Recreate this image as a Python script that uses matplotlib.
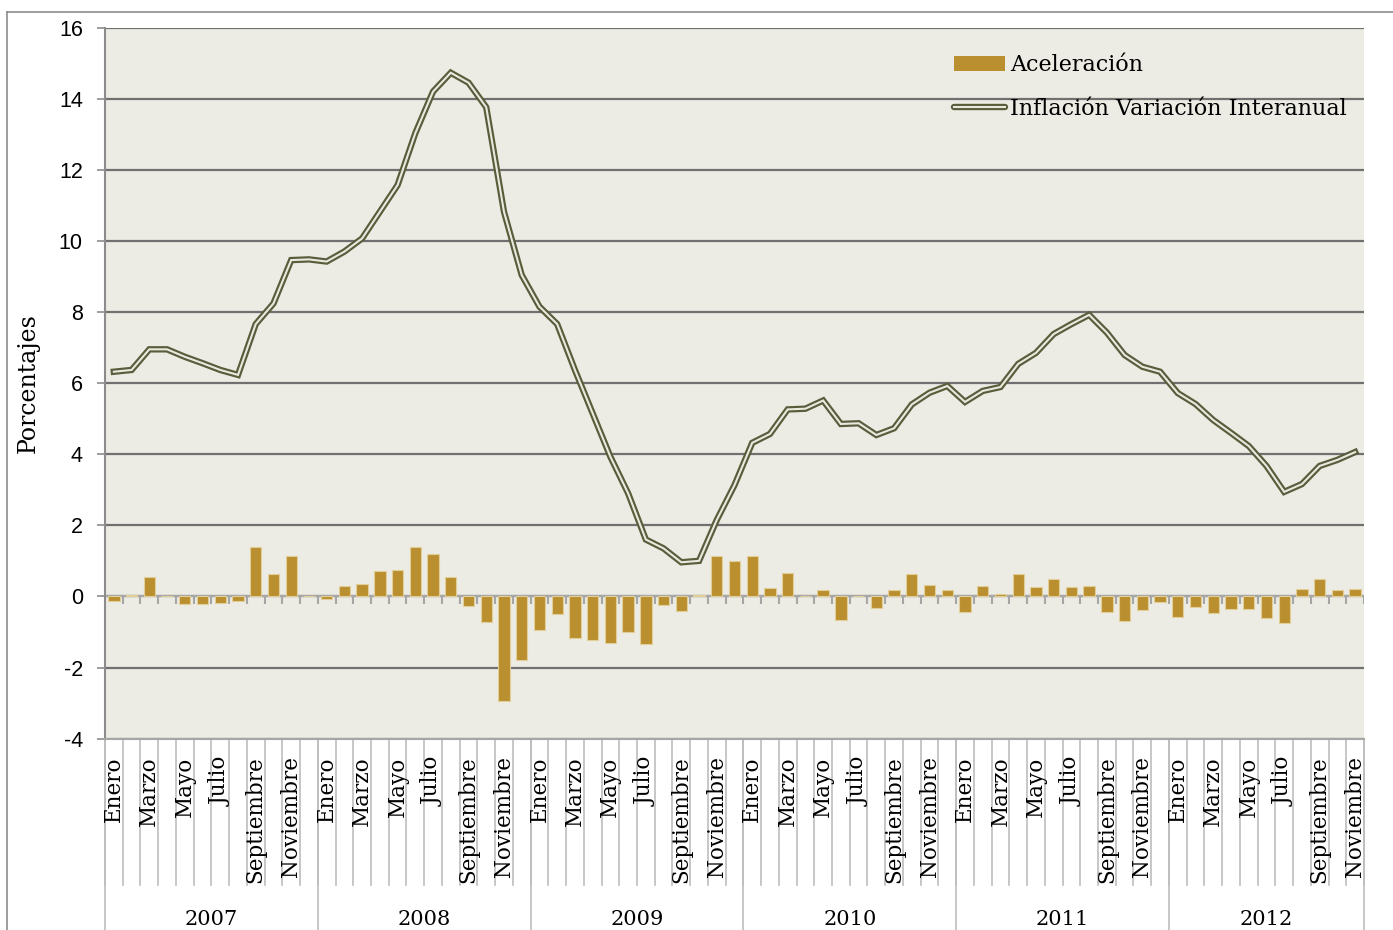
import numpy as np
import matplotlib
matplotlib.use("Agg")
import matplotlib.pyplot as plt
from matplotlib.lines import Line2D
from matplotlib.patches import Patch

plt.rcParams['axes.unicode_minus'] = False

# data (Jan 2007 - Nov 2012)
anios = ['2007', '2008', '2009', '2010', '2011', '2012']
meses_por_anio = [12, 12, 12, 12, 12, 11]
etiquetas_mes = ['Enero', 'Marzo', 'Mayo', 'Julio', 'Septiembre', 'Noviembre']

inflacion = [6.32, 6.37, 6.95, 6.95, 6.74, 6.56, 6.37, 6.23, 7.66, 8.24, 9.46, 9.48,
             9.42, 9.70, 10.07, 10.82, 11.57, 13.03, 14.20, 14.73, 14.45, 13.76, 10.82, 9.04,
             8.15, 7.66, 6.37, 5.15, 3.93, 2.90, 1.60, 1.35, 0.96, 1.00, 2.15, 3.13,
             4.32, 4.57, 5.26, 5.28, 5.51, 4.85, 4.87, 4.54, 4.73, 5.40, 5.73, 5.92,
             5.47, 5.78, 5.89, 6.54, 6.85, 7.38, 7.66, 7.92, 7.42, 6.79, 6.46, 6.32,
             5.72, 5.41, 4.96, 4.60, 4.23, 3.67, 2.94, 3.16, 3.67, 3.84, 4.06]

aceleracion = [-0.13, 0.03, 0.55, 0.0, -0.22, -0.22, -0.19, -0.14, 1.40, 0.62, 1.14, 0.01,
               -0.06, 0.29, 0.36, 0.72, 0.75, 1.39, 1.19, 0.54, -0.28, -0.73, -2.93, -1.80,
               -0.94, -0.50, -1.17, -1.24, -1.31, -1.01, -1.35, -0.25, -0.42, 0.04, 1.13, 0.99,
               1.15, 0.23, 0.67, 0.0, 0.19, -0.66, 0.01, -0.34, 0.19, 0.64, 0.32, 0.17,
               -0.45, 0.29, 0.07, 0.64, 0.27, 0.50, 0.26, 0.28, -0.45, -0.68, -0.38, -0.16,
               -0.58, -0.30, -0.47, -0.36, -0.36, -0.62, -0.76, 0.21, 0.48, 0.19, 0.20]

W, H = 1393, 930
fig = plt.figure(figsize=(W / 100, H / 100), dpi=100)
ax = fig.add_axes([105 / W, 1 - 738.6 / H, 1259 / W, 711 / H])

n = len(inflacion)
x = np.arange(n)
bg = '#ECECE4'
serif = 'DejaVu Serif'
oscuro = '#595D3B'
claro = '#E9EADF'

ax.set_facecolor(bg)
ax.set_xlim(-0.5, n - 0.5)
ax.set_ylim(-4, 16)
ax.set_yticks(range(-4, 17, 2))
ax.yaxis.grid(True, color='#707070', lw=1.6)
ax.set_axisbelow(True)
for s in ['top', 'right']:
  ax.spines[s].set_visible(False)
ax.spines['left'].set_color('#8C8C8C')
ax.spines['left'].set_linewidth(1.5)
ax.spines['bottom'].set_color('#A6A6A6')
ax.spines['bottom'].set_linewidth(1.5)
ax.tick_params(axis='y', length=6, width=1.2, color='#8C8C8C', labelsize=15.5, pad=10)
for lab in ax.get_yticklabels():
  lab.set_fontfamily('Liberation Sans')
ax.set_xticks([])

# zero axis with category ticks
ax.axhline(0, color='#A6A6A6', lw=1.5, zorder=2)
bordes = np.arange(n + 1) - 0.5
ax.vlines(bordes[1:], -0.22, 0, color='#A6A6A6', lw=1.5, zorder=2)

# bars
ax.bar(x, aceleracion, width=0.64, color='#B98F2F', edgecolor='#E2CE98', lw=0.8,
       zorder=3, label='Aceleración')

# double line
ax.plot(x, inflacion, color=oscuro, lw=4.6, solid_joinstyle='miter', zorder=4)
ax.plot(x, inflacion, color=claro, lw=1.5, solid_joinstyle='miter', zorder=5)

# legend
h_bar = Patch(facecolor='#B98F2F', edgecolor='none')
h_out = Line2D([], [], color=oscuro, lw=4.6, solid_capstyle='round')
h_in = Line2D([], [], color=claro, lw=1.5)
leg = ax.legend([h_bar, (h_out, h_in)], ['Aceleración', 'Inflación Variación Interanual'],
                loc='upper left', bbox_to_anchor=(943 / W, 1 - 43 / H),
                bbox_transform=fig.transFigure, frameon=False, borderpad=0,
                handlelength=2.3, handleheight=0.65, handletextpad=0.2,
                labelspacing=0.99, prop={'family': serif, 'size': 16})

# category axis below plot
xt = ax.get_xaxis_transform()
for b in bordes:
  ax.add_line(Line2D([b, b], [0, -0.206], transform=xt, color='#BEBEBE', lw=1.2, clip_on=False))
inicio = 0
for anio, m in zip(anios, meses_por_anio):
  ax.add_line(Line2D([inicio - 0.5, inicio - 0.5], [0, -0.3], transform=xt,
                     color='#BEBEBE', lw=1.2, clip_on=False))
  for k in range(0, m, 2):
    ax.text(inicio + k, -0.025, etiquetas_mes[k // 2], transform=xt, rotation=90,
            ha='center', va='top', fontsize=15.5, family=serif)
  ax.text(inicio + (m - 1) / 2, -0.255, anio, transform=xt, ha='center', va='center',
          fontsize=15, family=serif)
  inicio += m
ax.add_line(Line2D([n - 0.5, n - 0.5], [0, -0.3], transform=xt,
                   color='#BEBEBE', lw=1.2, clip_on=False))

ax.set_ylabel('Porcentajes', family=serif, fontsize=17, labelpad=14)

# outer frame
fig.add_artist(Line2D([7 / W, 1], [1 - 12 / H, 1 - 12 / H], color='#8C8C8C', lw=1.2))
fig.add_artist(Line2D([7 / W, 7 / W], [0, 1 - 12 / H], color='#8C8C8C', lw=1.2))

fig.savefig('out.png', dpi=100)
